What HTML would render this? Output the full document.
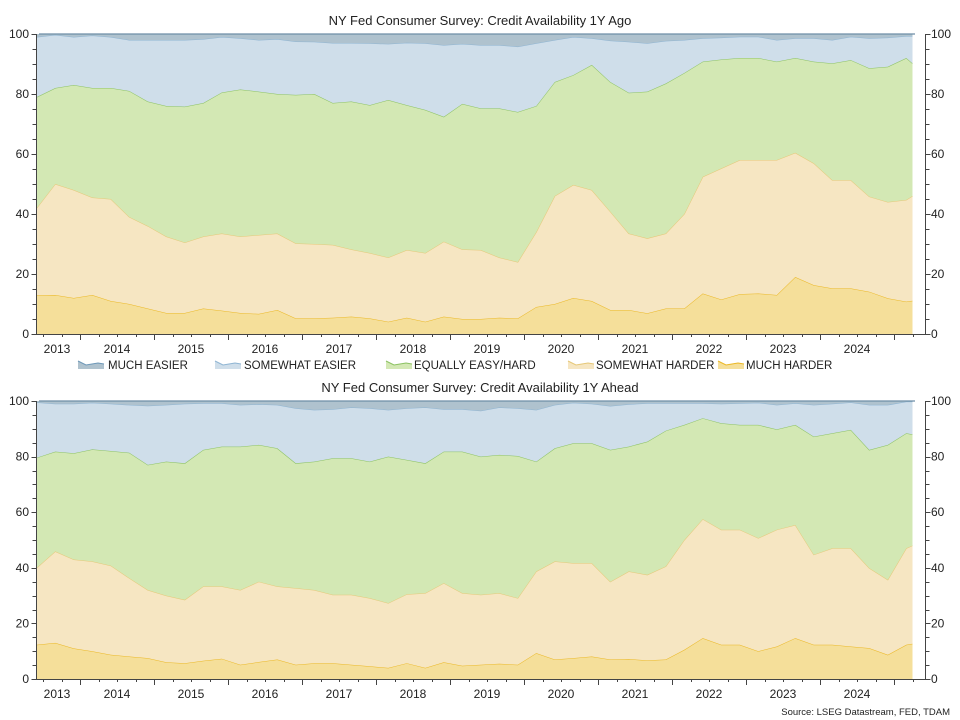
<!DOCTYPE html>
<html><head><meta charset="utf-8"><style>
body{margin:0;background:#fff;}
svg{display:block;font-family:"Liberation Sans",Arial,sans-serif;}
</style></head><body>
<svg id="c" width="960" height="720"></svg>
<script>
// Sample dates (quarterly from Jun 2013, last point Apr 2025)
const dates=["2013-06","2013-09","2013-12","2014-03","2014-06","2014-09","2014-12","2015-03","2015-06","2015-09","2015-12","2016-03","2016-06","2016-09","2016-12","2017-03","2017-06","2017-09","2017-12","2018-03","2018-06","2018-09","2018-12","2019-03","2019-06","2019-09","2019-12","2020-03","2020-06","2020-09","2020-12","2021-03","2021-06","2021-09","2021-12","2022-03","2022-06","2022-09","2022-12","2023-03","2023-06","2023-09","2023-12","2024-03","2024-06","2024-09","2024-12","2025-03","2025-04"];
const seriesNames=["MUCH EASIER","SOMEWHAT EASIER","EQUALLY EASY/HARD","SOMEWHAT HARDER","MUCH HARDER"];
const yTicks=[0,20,40,60,80,100];
const yearLabels=["2013","2014","2015","2016","2017","2018","2019","2020","2021","2022","2023","2024"];
// 1Y Ago shares (%)
const agoMuchHarder=[12.9,13,12,13,11,10,8.5,7,7,8.5,7.8,7,6.7,8,5.2,5.2,5.4,5.8,5.2,4.1,5.4,4.1,5.8,5,5,5.4,5.2,9,10,12,11,8,8,6.9,8.5,8.5,13.5,11.5,13.3,13.5,13,19,16.3,15.2,15.2,14.1,11.9,10.8,11.1];
const agoSomewhatHarder=[29.1,37,36,32.5,34,29,27.5,25.5,23.5,24,25.7,25.5,26.3,25.5,25,24.8,24.3,22.4,21.8,21.4,22.6,22.9,25,23.2,23,20.1,18.8,25,36,37.7,37,32.8,25.5,25,25,31.5,38.9,43.7,44.7,44.5,45,41.4,40.6,36.1,36.1,31.7,32.1,33.9,34.9];
const agoEqual=[37,32,35,36.5,37,42,41.5,43.5,45.3,44.5,47,49,47.8,46.5,49.5,50,47.3,49.3,49.3,52.5,48.3,47.7,41.6,48.5,47.2,49.7,50,42,38,36.6,41.7,43.2,46.9,48.9,50,47,38.4,36.3,34,34,32.8,31.6,33.9,38.9,40,42.8,45.1,47.3,44.2];
const agoSomewhatEasier=[20,17.7,16,17.5,17,17,20.5,22,22.2,21.3,18.5,17.1,17.2,18.3,17.8,17.4,20,19.5,20.6,18.7,20.8,22.2,23.9,20,21.1,21.1,21.8,20.9,14,12.7,8.9,13.8,17,16.1,14.2,11,7.8,7.3,7.1,7.1,7.2,6.6,7.8,7.8,7.8,10,9.7,7.3,9.1];
const agoMuchEasier=[1,0.3,1,0.5,1,2,2,2,2,1.7,1,1.4,2,1.7,2.5,2.6,3,3,3.1,3.3,2.9,3.1,3.7,3.3,3.7,3.7,4.2,3.1,2,1,1.4,2.2,2.6,3.1,2.3,2,1.4,1.2,0.9,0.9,2,1.4,1.4,2,0.9,1.4,1.2,0.7,0.7];
// 1Y Ahead shares (%)
const aheadMuchHarder=[12.3,13,11,10,8.7,8.1,7.5,6,5.7,6.6,7.3,5.1,6.1,7,5.1,5.7,5.7,5.1,4.6,4,5.7,4,6,4.8,5.1,5.5,5.1,9.3,7,7.5,8.1,7,7.2,6.7,7,10.5,14.7,12.3,12.3,10,11.7,14.7,12.3,12.3,11.7,11.1,8.7,12.3,12.7];
const aheadSomewhatHarder=[27.7,32.9,32,32.3,32.1,28.2,24.5,24,22.8,26.7,26,26.9,28.9,26.3,27.6,26.3,24.6,25.2,24.5,23.3,24.8,26.9,28.5,26.1,25.2,25.4,24,29.4,35.3,34.2,33.6,28,31.5,30.8,33.5,39.5,42.8,41.4,41.4,40.7,42,40.7,32.4,34.7,35.3,28.8,27,34.7,35.3];
const aheadEqual=[39.6,35.9,38.2,40.3,41.2,45.1,45,48.2,49.1,49.1,50.3,51.6,49.2,49.7,44.9,46.2,49.1,49.1,49.1,52.7,48.3,46.7,47.3,50.9,49.7,49.7,51.1,39.5,40.7,43.1,43.1,47.4,44.9,47.9,48.8,41.4,36.3,38.3,37.7,40.7,36.1,36,42.5,41.4,42.6,42.5,48.5,41.4,40];
const aheadSomewhatEasier=[19.9,17.2,17.8,16.8,17,17.2,21.3,20.4,21.4,16.8,15.6,15,14.6,15.6,19.8,18.6,17.6,18.3,19.2,16.8,18.6,20.1,15.2,15.2,16.5,17.1,17.2,18.6,15.6,14.6,14.2,15.8,15.2,13.8,9.9,7.8,5.4,7,7.8,8,8.8,7.8,11.4,10.6,9.9,16.2,14.4,11.4,11.8];
const aheadMuchEasier=[0.5,1,1,0.6,1,1.4,1.7,1.4,1,0.8,0.8,1.4,1.2,1.4,2.6,3.2,3,2.3,2.6,3.2,2.6,2.3,3,3,3.5,2.3,2.6,3.2,1.4,0.6,1,1.8,1.2,0.8,0.8,0.8,0.8,1,0.8,0.6,1.4,0.8,1.4,1,0.5,1.4,1.4,0.2,0.2];

const NS="http://www.w3.org/2000/svg";
const svg=document.getElementById('c');
function mk(t,a,p){const e=document.createElementNS(NS,t);for(const k in a)e.setAttribute(k,a[k]);(p||svg).appendChild(e);return e;}
const fills=["#afc2ce","#cfdeea","#d3e8b4","#f6e6c2","#f5df9a"];
const strokes=["#6e98b8","#8fb5d3","#8cc262","#e6c878","#ebb825"];
const X0=39, JAN2014=80, PXM=74/12;
function monthIdx(d){const [y,m]=d.split('-').map(Number);return (y-2014)*12+(m-1);}
function xScale(d){return JAN2014+monthIdx(d)*PXM;}

function drawPanel(opt){
  const g=mk('g',{});
  
  
  const top=opt.top,bot=opt.bot;
  const yS=v=>bot-(bot-top)*v/100;
  const t=mk('text',{x:480,y:top-9,'text-anchor':'middle','font-size':13,fill:'#222'},g);
  t.textContent=opt.title;
  
  
  const order=[opt.series[4],opt.series[3],opt.series[2],opt.series[1],opt.series[0]];
  const names=[seriesNames[4],seriesNames[3],seriesNames[2],seriesNames[1],seriesNames[0]];
  let base=dates.map(()=>0);
  order.forEach((s,i)=>{
    const ci=4-i;
    const topv=base.map((b,j)=>b+s[j]);
    let up=dates.map((d,j)=>xScale(d).toFixed(1)+','+yS(topv[j]).toFixed(1));
    let dn=dates.map((d,j)=>xScale(d).toFixed(1)+','+yS(base[j]).toFixed(1)).reverse();
    const a=mk('polygon',{points:up.concat(dn).join(' '),fill:fills[ci]},g);
    
    
    if(i<4){
      const l=mk('polyline',{points:up.join(' '),fill:'none',stroke:strokes[ci],'stroke-width':1},g);
      
      
    }
    base=topv;
  });
  mk('line',{x1:X0,x2:915,y1:top,y2:top,stroke:'#6d8ea6','stroke-width':1.2},g);
  const ax=mk('g',{stroke:'#444','stroke-width':1},g);
  
  
  mk('line',{x1:36.5,x2:36.5,y1:top,y2:bot+0.5},ax);
  mk('line',{x1:925.5,x2:925.5,y1:top,y2:bot+0.5},ax);
  mk('line',{x1:36,x2:926,y1:bot+0.5,y2:bot+0.5},ax);
  for(let v=0;v<=100;v+=5){
    const y=Math.round(yS(v))+0.5, L=(v%20===0)?5:4;
    mk('line',{x1:36.5-L,x2:36.5,y1:y,y2:y},ax);
    mk('line',{x1:925.5,x2:925.5+L,y1:y,y2:y},ax);
  }
  yTicks.forEach(v=>{
    const y=yS(v)+4;
    const a=mk('text',{x:29,y:y,'text-anchor':'end','font-size':12,fill:'#222'},g);a.textContent=v;
    
    
    const b=mk('text',{x:931,y:y,'font-size':12,fill:'#222'},g);b.textContent=v;
    
    
  });
  for(let m=-6;m<=135;m+=3){
    const x=Math.round(JAN2014+m*PXM)+0.5;
    const L=(m%12===0)?6:3;
    mk('line',{x1:x,x2:x,y1:bot,y2:bot+L},ax);
  }
  yearLabels.forEach((yr,i)=>{
    let cx=JAN2014+(i-1)*74+37;
    if(i===0)cx=57;
    const a=mk('text',{x:cx,y:bot+19,'text-anchor':'middle','font-size':12,fill:'#222'},g);a.textContent=yr;
    
    
  });
}
drawPanel({name:'panel-1y-ago',title:'NY Fed Consumer Survey: Credit Availability 1Y Ago',top:34,bot:334,
  series:[agoMuchEasier,agoSomewhatEasier,agoEqual,agoSomewhatHarder,agoMuchHarder]});
drawPanel({name:'panel-1y-ahead',title:'NY Fed Consumer Survey: Credit Availability 1Y Ahead',top:401,bot:679,
  series:[aheadMuchEasier,aheadSomewhatEasier,aheadEqual,aheadSomewhatHarder,aheadMuchHarder]});
const lg=mk('g',{});


const lx=[78,215,386,568,718], tx=[108,244,414,596,746];
seriesNames.forEach((n,i)=>{
  const e=mk('g',{},lg);
  
  
  const x=lx[i],y=365;
  mk('polygon',{points:`${x},${y-4} ${x+8},${y} ${x+14},${y-1} ${x+20},${y-2} ${x+26},${y-1} ${x+26},${y+4} ${x},${y+4}`,fill:fills[i]},e);
  mk('polyline',{points:`${x},${y-4} ${x+8},${y} ${x+14},${y-1} ${x+20},${y-2} ${x+26},${y-1}`,fill:'none',stroke:strokes[i]},e);
  const t=mk('text',{x:tx[i],y:y+4,'font-size':11.5,fill:'#222'},e);t.textContent=n;
});
const s=mk('text',{x:950,y:715,'text-anchor':'end','font-size':9.5,fill:'#222'});
s.textContent='Source: LSEG Datastream, FED, TDAM';


</script>
</body></html>
